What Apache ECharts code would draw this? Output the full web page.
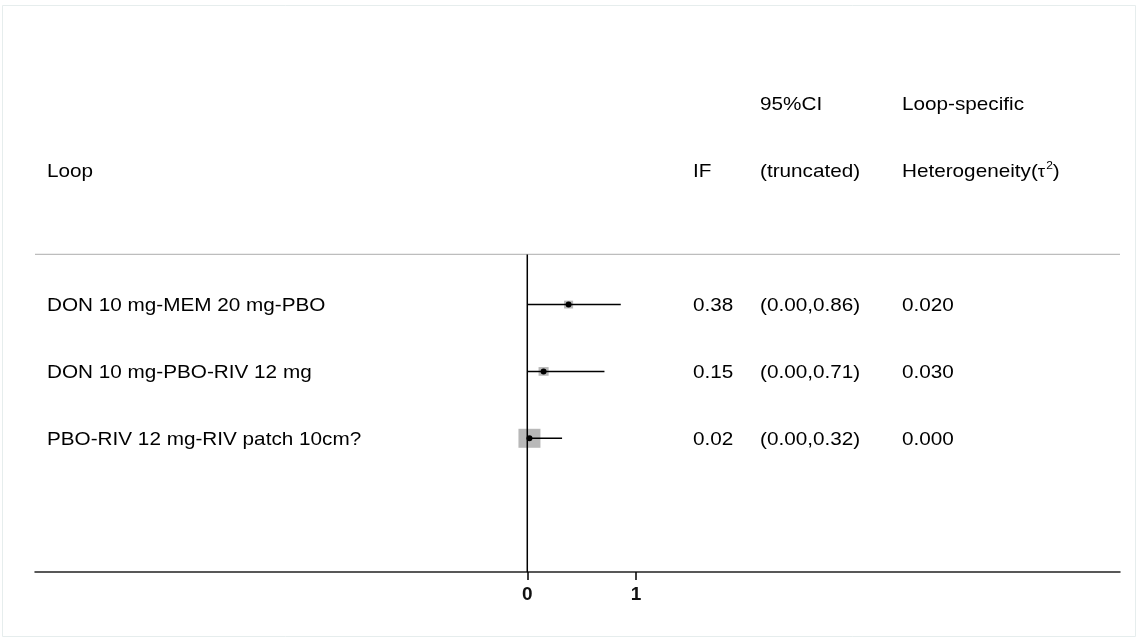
<!DOCTYPE html>
<html>
<head>
<meta charset="utf-8">
<script src="https://cdn.jsdelivr.net/npm/echarts@6/dist/echarts.min.js"></script>
<style>html,body{margin:0;padding:0;background:#fff}#c{width:1138px;height:639px}</style>
</head>
<body>
<div id="c"></div>
<script>
// ---- data ----
const loops = ['DON 10 mg-MEM 20 mg-PBO', 'DON 10 mg-PBO-RIV 12 mg', 'PBO-RIV 12 mg-RIV patch 10cm?'];
const ifValues = [0.38, 0.15, 0.02];
const ciLower = [0.00, 0.00, 0.00];
const ciUpper = [0.86, 0.71, 0.32];
const tau2 = [0.020, 0.030, 0.000];
const weights = [0.17, 0.21, 1.00];
const xTicks = [0, 1];
const headerTop = ['', '', '95%CI', 'Loop-specific'];
const headerBottom = ['Loop', 'IF', '(truncated)', 'Heterogeneity(τ²)'];

// ---- layout constants (data units) ----
const X_MIN = -4.529, X_MAX = 5.453;
const COLS = [-4.419, 1.524, 2.141, 3.447];
const ROW0 = 3; // first data row index
const HEADER_LINE = 2.25;
const FONT = '"Liberation Sans", Arial, sans-serif';
const FS = 19, SX = 1.09;

const textItems = [];
headerTop.forEach((t, i) => { if (t) textItems.push([COLS[i], 0, t]); });
headerBottom.forEach((t, i) => textItems.push([COLS[i], 1, t]));
loops.forEach((l, i) => {
  const r = ROW0 + i;
  textItems.push([COLS[0], r, l]);
  textItems.push([COLS[1], r, ifValues[i].toFixed(2)]);
  textItems.push([COLS[2], r, '(' + ciLower[i].toFixed(2) + ',' + ciUpper[i].toFixed(2) + ')']);
  textItems.push([COLS[3], r, tau2[i].toFixed(3)]);
});

const markData = loops.map((l, i) => [ifValues[i], ROW0 + i, ciLower[i], ciUpper[i], weights[i]]);

const chart = echarts.init(document.getElementById('c'), null, {renderer: 'canvas'});
chart.setOption({
  animation: false,
  backgroundColor: '#fff',
  graphic: [{
    type: 'rect', shape: {x: 2.5, y: 5.5, width: 1133, height: 631},
    style: {fill: 'none', stroke: '#e6eded', lineWidth: 1}, silent: true
  }],
  grid: {left: 35, right: 18, top: 104, bottom: 67, containLabel: false},
  xAxis: {
    type: 'value', min: X_MIN, max: X_MAX,
    splitLine: {show: false},
    axisLine: {show: true, onZero: false, lineStyle: {color: '#222', width: 1.5}},
    axisTick: {show: true, length: 8, customValues: xTicks, lineStyle: {color: '#000', width: 1.5}},
    axisLabel: {show: true, customValues: xTicks, margin: 13, fontSize: 19, fontWeight: 'bold',
      fontFamily: FONT, color: '#111', formatter: v => String(v)}
  },
  yAxis: {
    type: 'value', inverse: true, min: 0, max: 7, show: false, splitLine: {show: false}
  },
  series: [
    { // header separator
      type: 'line', symbol: 'none', silent: true,
      data: [[X_MIN, HEADER_LINE], [X_MAX, HEADER_LINE]],
      lineStyle: {color: '#bdbdbd', width: 1.2}
    },
    { // null line at 0
      type: 'line', symbol: 'none', silent: true,
      data: [[0, HEADER_LINE], [0, 7]],
      lineStyle: {color: '#000', width: 1.5}
    },
    { // estimates
      type: 'custom',
      data: markData,
      renderItem: function (params, api) {
        const p = api.coord([api.value(0), api.value(1)]);
        const lo = api.coord([api.value(2), api.value(1)]);
        const hi = api.coord([api.value(3), api.value(1)]);
        const s = Math.sqrt(api.value(4));
        const w = 22 * s, h = 19 * s;
        return {
          type: 'group',
          children: [
            {type: 'rect', shape: {x: p[0] - w / 2, y: p[1] - h / 2, width: w, height: h},
              style: {fill: '#b8b8b8'}},
            {type: 'line', shape: {x1: lo[0], y1: lo[1], x2: hi[0], y2: hi[1]},
              style: {stroke: '#000', lineWidth: 1.6}},
            {type: 'circle', shape: {cx: p[0], cy: p[1], r: 3}, style: {fill: '#000'}}
          ]
        };
      }
    },
    { // text table
      type: 'custom',
      data: textItems,
      renderItem: function (params, api) {
        const d = textItems[params.dataIndex];
        const p = api.coord([d[0], d[1]]);
        let txt = d[2];
        const rich = {
          n: {fontSize: FS, fontFamily: FONT, fill: '#000', lineHeight: 22},
          t: {fontSize: 17, fontFamily: FONT, fill: '#000', lineHeight: 22},
          s: {fontSize: 11, fontFamily: FONT, fill: '#000', lineHeight: 22, verticalAlign: 'top', padding: [0, 0, 13, 1]}
        };
        if (txt.indexOf('τ²') >= 0) {
          txt = '{n|Heterogeneity(}{t|τ}{s|2}{n|)}';
        } else {
          txt = '{n|' + txt + '}';
        }
        return {
          type: 'text', x: p[0], y: p[1] + 1, scaleX: SX,
          style: {text: txt, rich: rich, fontSize: FS, fontFamily: FONT, fill: '#000',
            align: 'left', verticalAlign: 'middle'}
        };
      }
    }
  ]
});
</script>
</body>
</html>
